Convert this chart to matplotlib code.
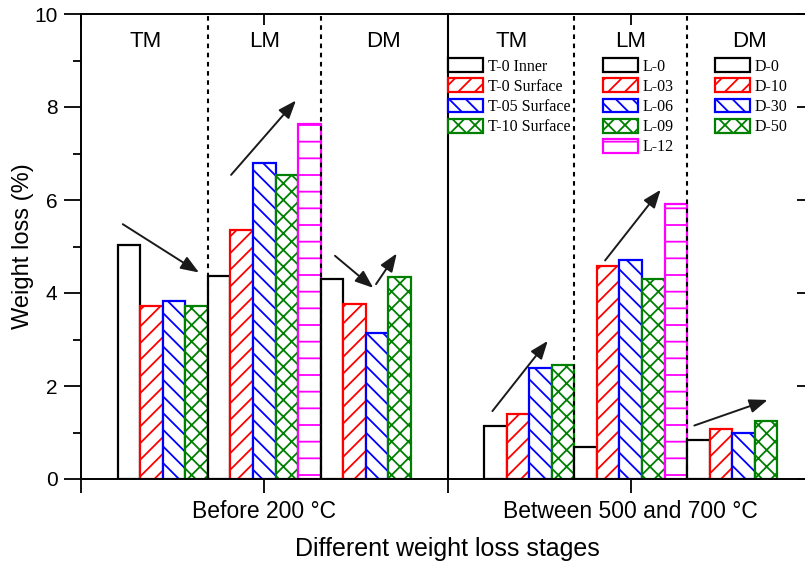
import numpy as np
import matplotlib
matplotlib.use('Agg')
import matplotlib.pyplot as plt

# weight loss (%)
tm_before = [5.04, 3.71, 3.82, 3.71]
lm_before = [4.37, 5.35, 6.79, 6.54, 7.63]
dm_before = [4.30, 3.76, 3.13, 4.34]
tm_between = [1.14, 1.40, 2.38, 2.45]
lm_between = [0.68, 4.58, 4.70, 4.31, 5.91]
dm_between = [0.84, 1.07, 1.00, 1.25]

stages = ['Before 200 °C', 'Between 500 and 700 °C']
groups = ['TM', 'LM', 'DM']
tm_labels = ['T-0 Inner', 'T-0 Surface', 'T-05 Surface', 'T-10 Surface']
lm_labels = ['L-0', 'L-03', 'L-06', 'L-09', 'L-12']
dm_labels = ['D-0', 'D-10', 'D-30', 'D-50']

colors = ['black', 'red', 'blue', 'green', 'magenta']
hatches = ['', '//', '\\\\', 'xx', '-']

# trend arrows (tail x, tail y, head x, head y) in data units
arrows = [
    (0.228, 5.48, 0.644, 4.44),
    (0.819, 6.54, 1.173, 8.14),
    (1.386, 4.80, 1.595, 4.11),
    (1.610, 4.19, 1.723, 4.85),
    (2.245, 1.46, 2.547, 2.97),
    (2.860, 4.70, 3.163, 6.22),
    (3.347, 1.15, 3.747, 1.70),
]

plt.rcParams['font.family'] = ['Liberation Sans', 'DejaVu Sans']
plt.rcParams['hatch.linewidth'] = 1.3

fig = plt.figure(figsize=(8.05, 5.67), dpi=100)
ax = fig.add_axes([81 / 805, 88 / 567, 733 / 805, 465 / 567])

w = 1.6 / 13
data = {1: [tm_before, lm_before, dm_before], 3: [tm_between, lm_between, dm_between]}
handles = {g: [] for g in groups}
for center, sets in data.items():
    k = 0
    for g, vals in zip(groups, sets):
        for i, v in enumerate(vals):
            x = center + (k - 6) * w
            b = ax.bar(x, v, width=w, color='white', edgecolor=colors[i],
                       hatch=hatches[i], linewidth=1.6, zorder=2)
            if center == 1:
                handles[g].append(b[0])
            k += 1
    # dashed separators between groups
    for s in (-2.5, 2.5):
        ax.axvline(center + s * w, color='black', linestyle=(0, (2.2, 2.2)), linewidth=1.5, zorder=3)
    # group titles
    for j, g in enumerate(groups):
        ax.text(center + (j - 1) * 0.65, 9.4, g, ha='center', va='center', fontsize=16)

ax.axvline(2, color='black', linewidth=1.5, zorder=3)

for x0, y0, x1, y1 in arrows:
    ax.annotate('', xy=(x1, y1), xytext=(x0, y0),
                arrowprops=dict(arrowstyle='-|>,head_length=1.1,head_width=0.42',
                                color='#1a1a1a', linewidth=1.4, mutation_scale=10,
                                shrinkA=0, shrinkB=0), zorder=4)

ax.set_xlim(0, 4)
ax.set_ylim(0, 10)
ax.set_xticks([0, 1, 2, 3, 4])
ax.set_xticklabels(['', stages[0], '', stages[1], ''], fontsize=16.5)
ax.set_yticks([0, 2, 4, 6, 8, 10])
ax.set_yticks([1, 3, 5, 7, 9], minor=True)
ax.tick_params(axis='y', labelsize=15, length=12, width=1.3, direction='out', right=True)
ax.tick_params(axis='y', which='minor', length=6, width=1.3, direction='out', right=False)
ax.tick_params(axis='x', length=10, width=1.3, direction='out', top=True)
ax.tick_params(axis='both', which='both', pad=5)
# right/top ticks point inwards
for t in ax.yaxis.get_major_ticks():
    t.tick2line.set_marker(matplotlib.lines.TICKLEFT)
for t in ax.xaxis.get_major_ticks():
    t.tick2line.set_marker(matplotlib.lines.TICKDOWN)
    t.tick2line.set_markersize(8)
for sp in ax.spines.values():
    sp.set_linewidth(1.4)

ax.set_ylabel('Weight loss (%)', fontsize=17, labelpad=0)
ax.set_xlabel('Different weight loss stages', fontsize=18, labelpad=10)

leg_font = {'family': 'Liberation Serif', 'size': 11.5}
anchors = [0.5007, 0.712, 0.865]
legs = []
for g, lab, xa in zip(groups, [tm_labels, lm_labels, dm_labels], anchors):
    leg = ax.legend(handles[g], lab, loc='upper left', bbox_to_anchor=(xa, 0.905),
                    frameon=False, prop=leg_font, borderpad=0, borderaxespad=0,
                    handlelength=2.2, handleheight=0.95, handletextpad=0.3,
                    labelspacing=0.24)
    legs.append(leg)
for leg in legs[:-1]:
    ax.add_artist(leg)

fig.savefig('out.png', dpi=100)
